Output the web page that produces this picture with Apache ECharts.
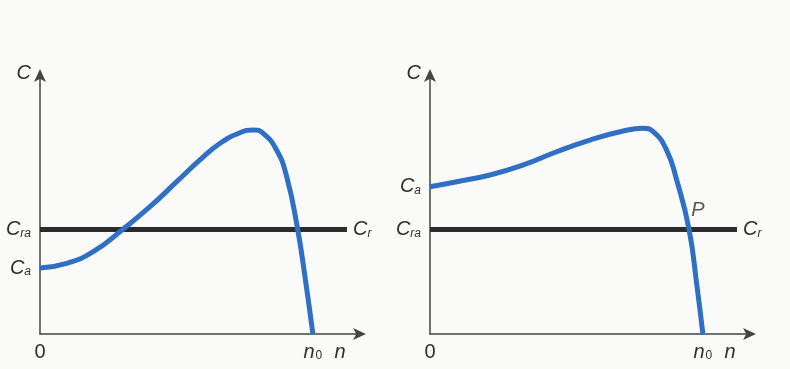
<!DOCTYPE html>
<html>
<head>
<meta charset="utf-8">
<script src="https://cdn.jsdelivr.net/npm/echarts@6/dist/echarts.min.js"></script>
<style>
  html, body { margin: 0; padding: 0; background: #fafaf8; }
  #chart { width: 790px; height: 369px; }
</style>
</head>
<body>
<div id="chart"></div>
<script>
// Torque (C) vs speed (n), normalised so that n0 = 1 and the load torque Cr = 1.
const loadTorque = 1.0;          // Cr (= Cra at start-up)
const loadEnd = 1.125;           // where the Cr line stops

// Left: starting torque below the load torque
const leftSpeed  = [0, 0.098, 0.195, 0.305, 0.403, 0.501, 0.586, 0.660, 0.733, 0.782, 0.818, 0.867, 0.904, 0.944, 0.971, 1.0];
const leftTorque = [0.632, 0.677, 0.788, 1.006, 1.219, 1.459, 1.667, 1.827, 1.928, 1.954, 1.922, 1.762, 1.507, 1.006, 0.549, 0];

// Right: starting torque above the load torque
const rightSpeed  = [0, 0.098, 0.220, 0.342, 0.464, 0.586, 0.708, 0.781, 0.818, 0.867, 0.904, 0.949, 0.977, 1.0];
const rightTorque = [1.411, 1.459, 1.523, 1.619, 1.746, 1.858, 1.944, 1.970, 1.938, 1.762, 1.475, 1.006, 0.486, 0];

// Operating point P on the right-hand chart
const operatingPoint = [0.949, loadTorque];

// Axis tick labels
const xTickValues = [0, 1.0, 1.1];
const xTickLabels = ['{z|0}', '{v|n}{d|0}', '{v|n}'];
const leftYTickValues  = [leftTorque[0], loadTorque, 2.5];
const rightYTickValues = [rightTorque[0], loadTorque, 2.5];
const leftYTickLabels  = ['{v|C}{s|a}', '{v|C}{s|ra}', '{v|C}'];
const rightYTickLabels = ['{v|C}{s|a}', '{v|C}{s|ra}', '{v|C}'];

const FONT = '"Liberation Sans", Arial, sans-serif';
const rich = {
  v: { fontFamily: FONT, fontStyle: 'italic', fontSize: 20, color: '#2e2e2e' },
  s: { fontFamily: FONT, fontStyle: 'italic', fontSize: 12, color: '#2e2e2e', verticalAlign: 'bottom', padding: [8, 0, 0, 0] },
  d: { fontFamily: FONT, fontSize: 12, color: '#2e2e2e', verticalAlign: 'bottom', padding: [8, 0, 0, 1] },
  z: { fontFamily: FONT, fontSize: 20, color: '#2e2e2e' }
};

function pick(values, labels) {
  return function (val) {
    let best = 0, d = Infinity;
    values.forEach(function (v, i) {
      const dd = Math.abs(v - val);
      if (dd < d) { d = dd; best = i; }
    });
    return labels[best];
  };
}

function zip(xs, ys) { return xs.map(function (x, i) { return [x, ys[i]]; }); }

const axisLine = {
  show: true,
  symbol: ['none', 'arrow'],
  symbolSize: [9, 13],
  symbolOffset: [0, 4],
  lineStyle: { color: '#444', width: 1.5 }
};

function xAxis(gridIndex) {
  return {
    type: 'value', gridIndex: gridIndex, min: 0, max: 1.18,
    axisLine: axisLine, axisTick: { show: false }, splitLine: { show: false },
    axisLabel: {
      customValues: xTickValues, margin: 8,
      formatter: pick(xTickValues, xTickLabels), rich: rich
    }
  };
}

function yAxis(gridIndex, values, labels) {
  return {
    type: 'value', gridIndex: gridIndex, min: 0, max: 2.5,
    axisLine: axisLine, axisTick: { show: false }, splitLine: { show: false },
    axisLabel: {
      customValues: values, margin: 9,
      formatter: pick(values, labels), rich: rich
    }
  };
}

const loadLabel = {
  show: true, distance: 6,
  formatter: '{v|C}{s|r}', rich: rich
};

const chart = echarts.init(document.getElementById('chart'));
chart.setOption({
  backgroundColor: '#fafaf8',
  animation: false,
  grid: [
    { left: 40, right: 428, top: 73, bottom: 35 },
    { left: 430, right: 38, top: 73, bottom: 35 }
  ],
  xAxis: [xAxis(0), xAxis(1)],
  yAxis: [
    yAxis(0, leftYTickValues, leftYTickLabels),
    yAxis(1, rightYTickValues, rightYTickLabels)
  ],
  series: [
    {
      type: 'line', xAxisIndex: 0, yAxisIndex: 0, z: 2,
      data: [[0, loadTorque], [loadEnd, loadTorque]],
      showSymbol: false, lineStyle: { color: '#2c2c2c', width: 5 },
      endLabel: loadLabel
    },
    {
      type: 'line', xAxisIndex: 0, yAxisIndex: 0, z: 3,
      data: zip(leftSpeed, leftTorque), smooth: 0.5, clip: false,
      showSymbol: false, lineStyle: { color: '#2f6fc4', width: 5 }
    },
    {
      type: 'line', xAxisIndex: 1, yAxisIndex: 1, z: 2,
      data: [[0, loadTorque], [loadEnd, loadTorque]],
      showSymbol: false, lineStyle: { color: '#2c2c2c', width: 5 },
      endLabel: loadLabel
    },
    {
      type: 'line', xAxisIndex: 1, yAxisIndex: 1, z: 3,
      data: zip(rightSpeed, rightTorque), smooth: 0.5, clip: false,
      showSymbol: false, lineStyle: { color: '#2f6fc4', width: 5 }
    },
    {
      type: 'scatter', xAxisIndex: 1, yAxisIndex: 1, z: 4,
      data: [operatingPoint], symbolSize: 1,
      itemStyle: { color: 'rgba(0,0,0,0)' },
      label: {
        show: true, position: 'top', offset: [9, -4],
        formatter: '{v|P}', rich: rich
      }
    }
  ]
});
</script>
</body>
</html>
